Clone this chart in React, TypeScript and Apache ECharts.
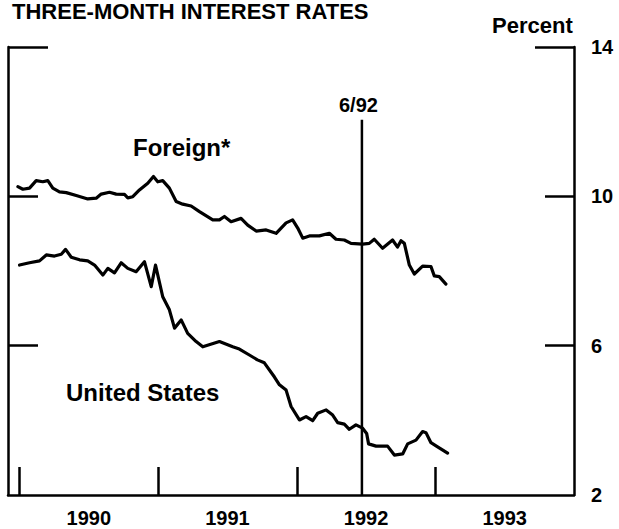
import React, { useEffect, useRef } from "react";
import * as echarts from "echarts";

const titleText = "THREE-MONTH INTEREST RATES";
const unitText = "Percent";
const foreignLabel = "Foreign*";
const usLabel = "United States";
const markerLabel = "6/92";

const yTicks = [14, 10, 6, 2];
const yearTicks = [1990, 1991, 1992, 1993];

const markerDate = 1992.47;
const markerTop = 12.05;

const foreignDates = [
  1989.988, 1990.024, 1990.072, 1990.12, 1990.168, 1990.204, 1990.24, 1990.288, 1990.337, 1990.409,
  1990.492, 1990.553, 1990.589, 1990.649, 1990.697, 1990.757, 1990.781, 1990.817, 1990.865, 1990.925,
  1990.966, 1990.997, 1991.033, 1991.081, 1991.13, 1991.177, 1991.238, 1991.298, 1991.394, 1991.442,
  1991.478, 1991.526, 1991.598, 1991.646, 1991.707, 1991.779, 1991.851, 1991.923, 1991.97, 1992.007,
  1992.043, 1992.091, 1992.163, 1992.235, 1992.283, 1992.343, 1992.391, 1992.475, 1992.523, 1992.559,
  1992.619, 1992.691, 1992.727, 1992.752, 1992.776, 1992.812, 1992.848, 1992.908, 1992.968, 1992.992,
  1993.028, 1993.076,
];
const foreignRates = [
  10.26, 10.19, 10.22, 10.42, 10.39, 10.42, 10.22, 10.12, 10.1, 10.02,
  9.93, 9.95, 10.06, 10.11, 10.06, 10.05, 9.96, 9.99, 10.17, 10.35,
  10.53, 10.39, 10.42, 10.22, 9.86, 9.79, 9.74, 9.59, 9.37, 9.37,
  9.46, 9.32, 9.41, 9.23, 9.07, 9.1, 9.01, 9.29, 9.37, 9.15,
  8.88, 8.94, 8.94, 9.01, 8.85, 8.83, 8.74, 8.72, 8.74, 8.85,
  8.61, 8.83, 8.64, 8.81, 8.74, 8.16, 7.92, 8.13, 8.12, 7.87,
  7.85, 7.65,
];

const usDates = [
  1990.0, 1990.072, 1990.144, 1990.193, 1990.252, 1990.301, 1990.332, 1990.373, 1990.433, 1990.492,
  1990.541, 1990.601, 1990.637, 1990.685, 1990.733, 1990.781, 1990.841, 1990.901, 1990.95, 1990.981,
  1991.033, 1991.081, 1991.118, 1991.166, 1991.213, 1991.274, 1991.322, 1991.442, 1991.538, 1991.586,
  1991.658, 1991.716, 1991.766, 1991.839, 1991.875, 1991.923, 1991.959, 1992.019, 1992.067, 1992.115,
  1992.151, 1992.212, 1992.259, 1992.295, 1992.343, 1992.379, 1992.427, 1992.475, 1992.504, 1992.518,
  1992.572, 1992.655, 1992.704, 1992.764, 1992.8, 1992.86, 1992.908, 1992.932, 1992.968, 1993.016,
  1993.088,
];
const usRates = [
  8.16, 8.22, 8.27, 8.43, 8.4, 8.45, 8.58, 8.37, 8.3, 8.27,
  8.16, 7.89, 8.07, 7.95, 8.22, 8.07, 7.98, 8.25, 7.58, 8.16,
  7.31, 6.96, 6.47, 6.69, 6.33, 6.11, 5.97, 6.11, 5.97, 5.91,
  5.75, 5.62, 5.54, 5.16, 4.95, 4.81, 4.37, 4.01, 4.1, 3.99,
  4.19, 4.28, 4.14, 3.94, 3.9, 3.76, 3.88, 3.79, 3.65, 3.37,
  3.31, 3.31, 3.07, 3.1, 3.37, 3.47, 3.7, 3.67, 3.4, 3.29,
  3.12,
];

const FONT = "'Liberation Sans', Arial, Helvetica, sans-serif";
const BLACK = "#000";

function zip(xs: number[], ys: number[]) {
  return xs.map((x, i) => [x, ys[i]]);
}

function textTitle(text: string, left: number, top: number, fontSize: number) {
  return {
    text,
    left,
    top,
    padding: 0,
    textStyle: { fontFamily: FONT, fontSize, fontWeight: "bold", color: BLACK },
  };
}

export default function App() {
  const ref = useRef<HTMLDivElement>(null);

  useEffect(() => {
    if (!ref.current) return;
    const chart = echarts.init(ref.current, null, { renderer: "svg" });

    const yBase = {
      type: "value" as const,
      min: 2,
      max: 14,
      splitLine: { show: false },
    };
    const axisLineStyle = { color: BLACK, width: 2.5 };
    const tickLineStyle = { color: BLACK, width: 2.5 };
    const labelStyle = { fontFamily: FONT, fontSize: 20, fontWeight: "bold", color: BLACK };

    const option: any = {
      animation: false,
      backgroundColor: "#fff",
      title: [
        textTitle(titleText, 12, 0, 22),
        textTitle(unitText, 492, 14, 22),
        textTitle(markerLabel, 339, 95, 20),
        textTitle(foreignLabel, 133, 135, 24),
        textTitle(usLabel, 66, 380, 24),
      ],
      grid: { left: 8, right: 45, top: 47, bottom: 34, containLabel: false },
      xAxis: {
        type: "value",
        min: 1989.9167,
        max: 1994,
        splitLine: { show: false },
        axisLine: { show: true, lineStyle: axisLineStyle },
        axisTick: { show: true, inside: true, length: 28, customValues: yearTicks, lineStyle: tickLineStyle },
        axisLabel: {
          show: true,
          customValues: yearTicks.map((y) => y + 0.5),
          formatter: (v: number) => String(Math.floor(v)),
          margin: 13,
          ...labelStyle,
        },
      },
      yAxis: [
        {
          ...yBase,
          position: "left",
          axisLine: { show: true, lineStyle: axisLineStyle },
          axisTick: { show: true, inside: true, length: 40, customValues: [14], lineStyle: tickLineStyle },
          axisLabel: { show: false },
        },
        {
          ...yBase,
          position: "left",
          axisLine: { show: false },
          axisTick: { show: true, inside: true, length: 30, customValues: [10, 6], lineStyle: tickLineStyle },
          axisLabel: { show: false },
        },
        {
          ...yBase,
          position: "right",
          axisLine: { show: true, lineStyle: axisLineStyle },
          axisTick: { show: true, inside: true, length: 39, customValues: [14], lineStyle: tickLineStyle },
          axisLabel: { show: true, customValues: yTicks, margin: 17, ...labelStyle },
        },
        {
          ...yBase,
          position: "right",
          axisLine: { show: false },
          axisTick: { show: true, inside: true, length: 29, customValues: [10, 6], lineStyle: tickLineStyle },
          axisLabel: { show: false },
        },
      ],
      series: [
        {
          name: "Foreign*",
          type: "line",
          data: zip(foreignDates, foreignRates),
          showSymbol: false,
          symbol: "none",
          lineStyle: { color: BLACK, width: 3.2, join: "round", cap: "round" },
        },
        {
          name: "United States",
          type: "line",
          data: zip(usDates, usRates),
          showSymbol: false,
          symbol: "none",
          lineStyle: { color: BLACK, width: 3.2, join: "round", cap: "round" },
        },
        {
          name: "6/92",
          type: "line",
          data: [[markerDate, 2], [markerDate, markerTop]],
          showSymbol: false,
          symbol: "none",
          lineStyle: { color: BLACK, width: 2.5 },
        },
      ],
    };

    chart.setOption(option);
    return () => chart.dispose();
  }, []);

  return (
    <div
      ref={ref}
      style={{ position: "fixed", left: 0, top: 0, width: 619, height: 529, background: "#fff" }}
    />
  );
}
